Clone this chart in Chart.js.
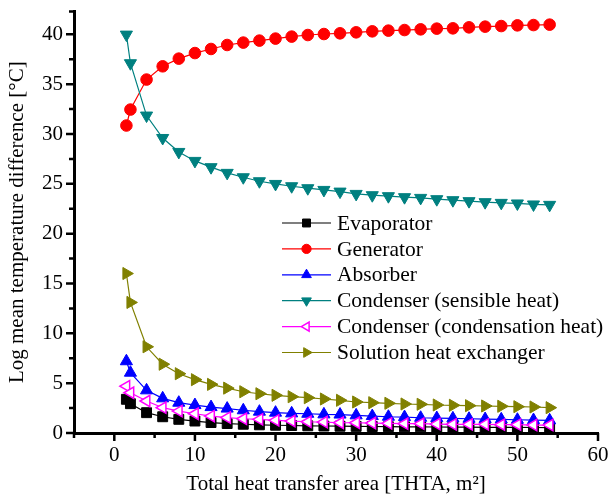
<!DOCTYPE html>
<html>
<head>
<meta charset="utf-8">
<script src="https://cdn.jsdelivr.net/npm/chart.js@4.4.0/dist/chart.umd.min.js"></script>
<style>
  body { margin: 0; background: #fff; }
  canvas { display: block; }
</style>
</head>
<body>
<canvas id="chart" width="612" height="498"></canvas>
<script>
// Total heat transfer area (m2) for every point
const areas = [1.5, 2, 4, 6, 8, 10, 12, 14, 16, 18, 20, 22, 24, 26, 28,
               30, 32, 34, 36, 38, 40, 42, 44, 46, 48, 50, 52, 54];

// Log mean temperature difference, one list per component
const evaporator = [3.38, 2.94, 2.04, 1.63, 1.37, 1.2, 1.05, 0.95, 0.88, 0.82, 0.78, 0.75, 0.72, 0.7, 0.68,
                    0.66, 0.65, 0.63, 0.62, 0.61, 0.6, 0.59, 0.58, 0.57, 0.56, 0.56, 0.55, 0.54];
const generator = [30.85, 32.45, 35.46, 36.79, 37.56, 38.12, 38.53, 38.93, 39.17, 39.37, 39.57, 39.77, 39.93, 40.03, 40.1,
                   40.2, 40.3, 40.37, 40.43, 40.5, 40.57, 40.6, 40.7, 40.77, 40.83, 40.9, 40.93, 40.97];
const absorber = [7.2, 6.05, 4.28, 3.48, 3.04, 2.8, 2.6, 2.45, 2.28, 2.14, 2.04, 1.97, 1.93, 1.87, 1.85,
                  1.77, 1.7, 1.63, 1.6, 1.53, 1.5, 1.47, 1.43, 1.4, 1.37, 1.33, 1.3, 1.27];
const condSensible = [39.97, 37.1, 31.85, 29.6, 28.2, 27.3, 26.67, 26.1, 25.66, 25.26, 24.99, 24.76, 24.56, 24.39, 24.22,
                      23.99, 23.86, 23.76, 23.66, 23.59, 23.46, 23.36, 23.26, 23.16, 23.09, 23.03, 22.93, 22.89];
const condCondensation = [4.7, 4.04, 3.21, 2.54, 2.2, 1.93, 1.7, 1.55, 1.43, 1.37, 1.27, 1.2, 1.13, 1.1, 1.03,
                          1.03, 1.0, 0.97, 0.94, 0.94, 0.9, 0.87, 0.87, 0.87, 0.84, 0.84, 0.8, 0.8];
const solutionHx = [16.0, 13.1, 8.65, 6.9, 5.95, 5.35, 4.88, 4.5, 4.14, 3.94, 3.78, 3.64, 3.54, 3.41, 3.28,
                    3.11, 3.04, 2.98, 2.91, 2.88, 2.81, 2.78, 2.74, 2.71, 2.68, 2.64, 2.61, 2.54];

const seriesNames = ['Evaporator', 'Generator', 'Absorber', 'Condenser (sensible heat)',
                     'Condenser (condensation heat)', 'Solution heat exchanger'];

// axis ticks
const xMajor = [0, 10, 20, 30, 40, 50, 60];
const xMinor = [-5, 5, 15, 25, 35, 45, 55];
const yMajor = [0, 5, 10, 15, 20, 25, 30, 35, 40];
const yMinor = [2.5, 7.5, 12.5, 17.5, 22.5, 27.5, 32.5, 37.5, 42.3];

const serif = 'Liberation Serif';

function series(label, values, color, style, rotation, radius, hollow) {
    return {
        label: label,
        data: areas.map((a, i) => ({ x: a, y: values[i] })),
        borderColor: color,
        borderWidth: 1.2,
        pointStyle: style,
        rotation: rotation,
        pointRadius: radius,
        pointBorderColor: color,
        pointBackgroundColor: hollow ? '#ffffff' : color,
        pointBorderWidth: hollow ? 1.5 : 1,
        tension: 0,
        fill: false
    };
}

const datasets = [
    series(seriesNames[0], evaporator, '#000000', 'rect', 0, 7),
    series(seriesNames[1], generator, '#ff0000', 'circle', 0, 5.8),
    series(seriesNames[2], absorber, '#0000ff', 'triangle', 0, 7),
    series(seriesNames[3], condSensible, '#008080', 'triangle', 180, 7),
    series(seriesNames[4], condCondensation, '#ff00ff', 'triangle', 270, 6.5, true),
    series(seriesNames[5], solutionHx, '#808000', 'triangle', 90, 7)
];
// later series sit on top, like the original
datasets.forEach((d, i) => { d.order = datasets.length - i; });

// outward tick marks, long for majors and short for minors
const axisTicks = {
    id: 'axisTicks',
    afterDraw(chart) {
        const { ctx, chartArea, scales } = chart;
        ctx.save();
        ctx.strokeStyle = '#000';
        ctx.lineWidth = 2.5;
        ctx.beginPath();
        xMajor.concat(xMinor).forEach(v => {
            const px = scales.x.getPixelForValue(v);
            const len = xMajor.includes(v) ? 8 : 5;
            ctx.moveTo(px, chartArea.bottom);
            ctx.lineTo(px, chartArea.bottom + len);
        });
        yMajor.concat(yMinor).forEach(v => {
            const py = scales.y.getPixelForValue(v);
            const len = yMajor.includes(v) ? 8 : 5;
            ctx.moveTo(chartArea.left, py);
            ctx.lineTo(chartArea.left - len, py);
        });
        ctx.stroke();
        ctx.restore();
    }
};

// legend drawn inside the plot area
const innerLegend = {
    id: 'innerLegend',
    afterDraw(chart) {
        const ctx = chart.ctx;
        const x0 = 282, x1 = 331, top = 223, step = 25.9;
        ctx.save();
        ctx.font = '21.5px "' + serif + '"';
        ctx.textBaseline = 'middle';
        chart.data.datasets.forEach((d, i) => {
            const y = top + i * step;
            ctx.strokeStyle = d.borderColor;
            ctx.lineWidth = 1.2;
            ctx.beginPath();
            ctx.moveTo(x0, y);
            ctx.lineTo(x1, y);
            ctx.stroke();
            ctx.fillStyle = d.pointBackgroundColor;
            ctx.strokeStyle = d.pointBorderColor;
            ctx.lineWidth = d.pointBorderWidth;
            Chart.helpers.drawPoint(ctx, {
                pointStyle: d.pointStyle,
                rotation: d.rotation,
                radius: d.pointRadius * 0.8,
                borderWidth: d.pointBorderWidth
            }, (x0 + x1) / 2, y);
            ctx.fillStyle = '#000';
            ctx.fillText(d.label, 337, y + 1);
        });
        ctx.restore();
    }
};

new Chart(document.getElementById('chart'), {
    type: 'line',
    data: { datasets: datasets },
    options: {
        responsive: false,
        animation: false,
        layout: { padding: { left: 3, right: 14, top: 10, bottom: 1 } },
        plugins: {
            legend: { display: false },
            tooltip: { enabled: false }
        },
        scales: {
            x: {
                type: 'linear',
                min: -5,
                max: 60,
                grid: { display: false, drawTicks: true, tickLength: 8 },
                border: { display: true, color: '#000', width: 3 },
                ticks: {
                    stepSize: 10,
                    includeBounds: false,
                    padding: 2,
                    color: '#000',
                    font: { family: serif, size: 21 },
                    maxRotation: 0
                },
                title: {
                    display: true,
                    text: 'Total heat transfer area [THTA, m\u00b2]',
                    color: '#000',
                    font: { family: serif, size: 21 },
                    padding: { top: 0, bottom: 0 }
                },
                afterFit(scale) { scale.height = 64; }
            },
            y: {
                min: 0,
                max: 42.3,
                grid: { display: false, drawTicks: true, tickLength: 8 },
                border: { display: true, color: '#000', width: 3 },
                ticks: {
                    stepSize: 5,
                    includeBounds: false,
                    padding: 3,
                    color: '#000',
                    font: { family: serif, size: 21, lineHeight: 0.8 }
                },
                title: {
                    display: true,
                    text: 'Log mean temperature difference [\u00b0C]',
                    color: '#000',
                    font: { family: serif, size: 21 },
                    padding: { top: 2, bottom: 0 }
                },
                afterFit(scale) { scale.width = 71; }
            }
        }
    },
    plugins: [axisTicks, innerLegend]
});
</script>
</body>
</html>
